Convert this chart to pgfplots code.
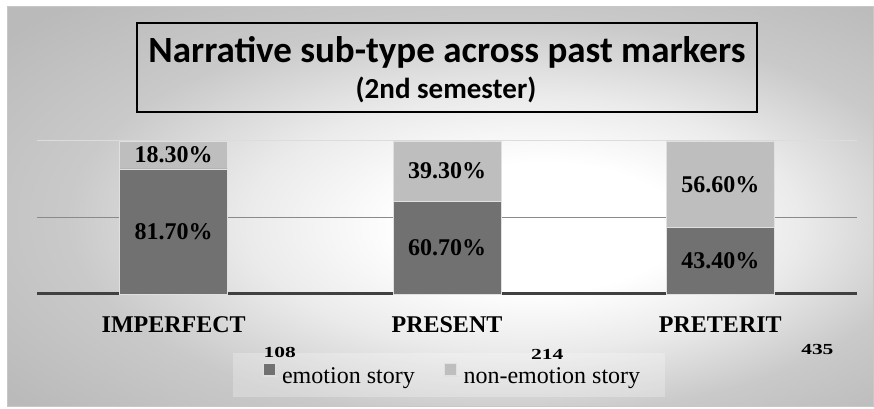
\documentclass[border=0pt]{standalone}
\usepackage{fontspec}
\setmainfont{Liberation Serif}
\newfontfamily\titlefont{Carlito}
\usepackage{pgfplots}
\usepackage{pgfplotstable}
\pgfplotsset{compat=1.18}
\definecolor{darkbar}{HTML}{717171}
\definecolor{lightbar}{HTML}{BEBEBE}
\definecolor{axisline}{HTML}{404040}
\definecolor{midgrid}{HTML}{8A8A8A}
\definecolor{topgrid}{HTML}{DCDCDC}
\pgfdeclareradialshading{bgshade}{\pgfpoint{7bp}{-3bp}}{color(0bp)=(white); color(8bp)=(white); color(16bp)=(black!8); color(25bp)=(black!21); color(35bp)=(black!27); color(50bp)=(black!27)}

\pgfplotstableread{
x emo non
0 81.7 18.3
1 60.7 39.3
2 43.4 56.6
}\datatable

\begin{document}
\begin{tikzpicture}
\path[use as bounding box] (0,0) rectangle (655.5pt,306.75pt);
\fill[white] (0,0) rectangle (655.5pt,306.75pt);
\shade[shading=bgshade, draw=black!22, line width=0.75pt] (5.25pt,2pt) rectangle (655pt,301.5pt);
\fill[white, opacity=0.25] (174.75pt,9pt) rectangle (498.75pt,42pt);
\draw[black, line width=1.2pt] (102.75pt,222.75pt) rectangle (567.75pt,289.5pt);
\node[anchor=base, inner sep=0pt] at (335.25pt,259.5pt) {\titlefont\bfseries\fontsize{27.75pt}{30pt}\selectfont Narrative sub-type across past markers};
\node[anchor=base, inner sep=0pt] at (334.5pt,232.5pt) {\titlefont\bfseries\fontsize{21.75pt}{24pt}\selectfont (2nd semester)};

\begin{axis}[
  at={(27.75pt,86.25pt)}, anchor=south west,
  scale only axis, width=615pt, height=114.75pt,
  xmin=-0.5, xmax=2.5, ymin=0, ymax=100,
  ybar stacked, bar width=0.395,
  axis line style={draw=none},
  ytick={50}, yticklabels={},
  extra y ticks={100}, extra y tick labels={},
  extra y tick style={grid style={topgrid, line width=0.75pt}},
  ymajorgrids, grid style={midgrid, line width=1.1pt},
  xtick={0,1,2}, xticklabels={IMPERFECT,PRESENT,PRETERIT},
  major tick length=0pt,
  xticklabel style={font=\fontsize{18pt}{20pt}\selectfont\bfseries, anchor=base, yshift=-29.25pt},
  clip=false,
  legend image code/.code={\fill[#1] (0pt,0.75pt) rectangle (9pt,9.75pt); \path (0pt,0pt) -- (12pt,0pt);},
  legend style={at={(0.507,-0.536)}, anchor=center, draw=none, fill=none,
    legend columns=2, font=\fontsize{18pt}{20pt}\selectfont,
    /tikz/every even column/.append style={column sep=20pt}},
]
\addplot[fill=darkbar, draw=white!88!black, line width=0.6pt] table[x=x,y=emo]{\datatable};
\addplot[fill=lightbar, draw=white!88!black, line width=0.6pt] table[x=x,y=non]{\datatable};
\draw[midgrid, opacity=0.35, line width=1.1pt] (axis cs:-0.5,50) -- (axis cs:2.5,50);
\draw[axisline, line width=2.25pt] (axis cs:-0.5,0) -- (axis cs:2.5,0);
\legend{emotion story, non-emotion story}
\end{axis}

\begin{axis}[
  at={(27.75pt,86.25pt)}, anchor=south west,
  scale only axis, width=615pt, height=114.75pt,
  xmin=-0.5, xmax=2.5, ymin=0, ymax=100,
  hide axis, clip=false,
]
\addplot[draw=none, mark=none, nodes near coords={\pgfplotspointmeta}, point meta=explicit symbolic,
  every node near coord/.style={anchor=center, font=\fontsize{18pt}{20pt}\selectfont\bfseries}]
  coordinates {(0,40.85) [81.70\%] (1,30.35) [60.70\%] (2,21.7) [43.40\%]
               (0,90.85) [18.30\%] (1,80.35) [39.30\%] (2,71.7) [56.60\%]};
\addplot[draw=none, mark=none, nodes near coords={\scalebox{1.4}[1]{\pgfplotspointmeta}}, point meta=explicit symbolic,
  every node near coord/.style={anchor=center, font=\fontsize{11.5pt}{12pt}\selectfont\bfseries}]
  coordinates {(0.388,-37.9) [108] (1.367,-39.2) [214] (2.355,-36.6) [435]};
\end{axis}
\end{tikzpicture}
\end{document}
